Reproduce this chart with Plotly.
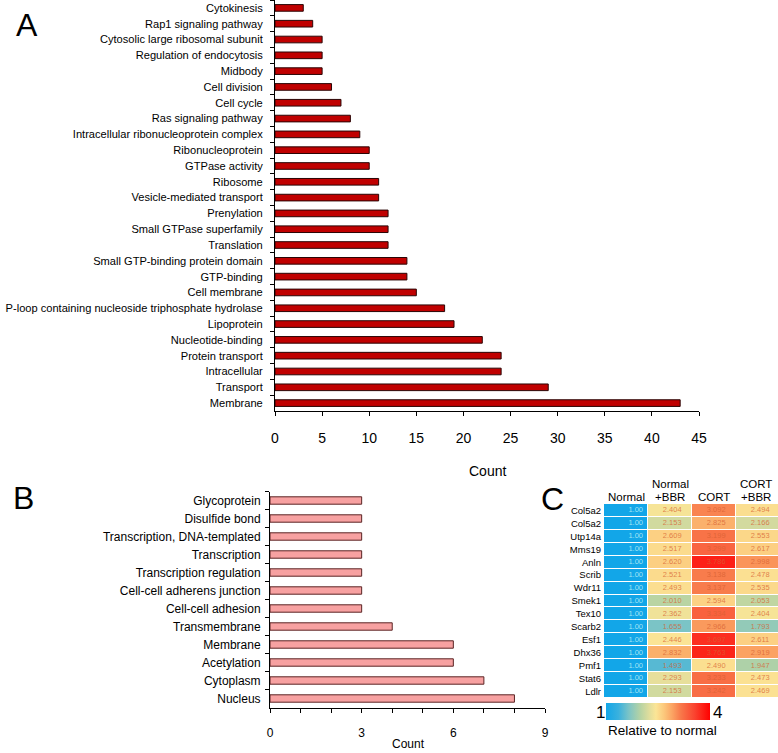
import plotly.graph_objects as go

# ---------------- data ----------------
a_terms = ["Cytokinesis", "Rap1 signaling pathway", "Cytosolic large ribosomal subunit",
           "Regulation of endocytosis", "Midbody", "Cell division", "Cell cycle",
           "Ras signaling pathway", "Intracellular ribonucleoprotein complex",
           "Ribonucleoprotein", "GTPase activity", "Ribosome", "Vesicle-mediated transport",
           "Prenylation", "Small GTPase superfamily", "Translation",
           "Small GTP-binding protein domain", "GTP-binding", "Cell membrane",
           "P-loop containing nucleoside triphosphate hydrolase", "Lipoprotein",
           "Nucleotide-binding", "Protein transport", "Intracellular", "Transport", "Membrane"]
a_counts = [3, 4, 5, 5, 5, 6, 7, 8, 9, 10, 10, 11, 11, 12, 12, 12, 14, 14, 15, 18, 19, 22, 24, 24, 29, 43]

b_terms = ["Glycoprotein", "Disulfide bond", "Transcription, DNA-templated", "Transcription",
           "Transcription regulation", "Cell-cell adherens junction", "Cell-cell adhesion",
           "Transmembrane", "Membrane", "Acetylation", "Cytoplasm", "Nucleus"]
b_counts = [3, 3, 3, 3, 3, 3, 3, 4, 6, 6, 7, 8]

genes = ["Col5a2", "Col5a2", "Utp14a", "Mms19", "Anln", "Scrib", "Wdr11", "Smek1",
         "Tex10", "Scarb2", "Esf1", "Dhx36", "Pmf1", "Stat6", "Ldlr"]
col_top = ["", "Normal", "", "CORT"]
col_bot = ["Normal", "+BBR", "CORT", "+BBR"]
normal = [1.00] * 15
normal_bbr = [2.404, 2.153, 2.609, 2.517, 2.620, 2.521, 2.493, 2.010, 2.362, 1.655, 2.446, 2.832, 1.493, 2.293, 2.153]
cort = [3.092, 2.825, 3.199, 3.299, 3.786, 3.138, 3.137, 2.594, 3.334, 2.966, 3.697, 3.763, 2.490, 3.233, 3.242]
cort_bbr = [2.494, 2.166, 2.553, 2.617, 2.998, 2.478, 2.535, 2.053, 2.404, 1.793, 2.611, 2.919, 1.947, 2.473, 2.469]

# ---------------- layout helpers ----------------
W, H = 778, 753
def px(x):
    return x / W
def py(y):
    return 1 - y / H

FONT = "Liberation Sans, Arial, sans-serif"

fig = go.Figure()

# Panel A
fig.add_trace(go.Bar(x=a_counts, y=a_terms, orientation="h", width=0.42,
                     marker=dict(color="#C00000", line=dict(color="#2a0505", width=1)),
                     xaxis="x", yaxis="y", showlegend=False))
# Panel B
fig.add_trace(go.Bar(x=b_counts, y=b_terms, orientation="h", width=0.41,
                     marker=dict(color="#F7A1A1", line=dict(color="#5a2424", width=1)),
                     xaxis="x2", yaxis="y2", showlegend=False))

# Panel C heatmap
cols = [normal, normal_bbr, cort, cort_bbr]
nrow = len(genes)
z = [[cols[c][r] for c in range(4)] for r in range(nrow)]
colorscale = [
    [0.0, "#12A6E8"],
    [0.12, "#3AB1DE"],
    [0.22, "#7CC4C6"],
    [0.33, "#B6D3A4"],
    [0.42, "#E2DE9C"],
    [0.48, "#FBE596"],
    [0.56, "#FCC77B"],
    [0.64, "#FBA262"],
    [0.72, "#F8784A"],
    [0.85, "#FA4430"],
    [1.0, "#FF0000"],
]
fig.add_trace(go.Heatmap(z=z, x=list(range(4)), y=list(range(nrow)), zmin=1, zmax=4,
                         colorscale=colorscale, xgap=1, ygap=1, hoverinfo="skip",
                         xaxis="x3", yaxis="y3",
                         colorbar=dict(orientation="h", x=px(658), xanchor="center",
                                       len=104 / W, lenmode="fraction", thickness=17,
                                       y=py(703), yanchor="top", xpad=0, ypad=0,
                                       outlinewidth=0, showticklabels=False, ticks="")))

# cell text
tx, ty, tt, tc = [], [], [], []
for r in range(nrow):
    for c in range(4):
        v = cols[c][r]
        tx.append(c + (0.22 if c == 0 else 0.05))
        ty.append(r)
        tt.append(f"{v:.2f}" if c == 0 else f"{v:.3f}")
        tc.append("rgba(175,232,245,0.95)" if c == 0 else "rgba(215,95,50,0.75)")
fig.add_trace(go.Scatter(x=tx, y=ty, text=tt, mode="text", textfont=dict(size=7.5, color=tc, family=FONT),
                         xaxis="x3", yaxis="y3", showlegend=False, hoverinfo="skip"))

axis_common = dict(showline=True, linecolor="black", linewidth=1, showgrid=False, zeroline=False,
                   ticks="outside", tickcolor="black", ticklen=4, fixedrange=True, automargin=False)

fig.update_layout(
    width=W, height=H, margin=dict(l=0, r=0, t=0, b=0, autoexpand=False),
    paper_bgcolor="white", plot_bgcolor="white",
    font=dict(family=FONT, color="black"),
    xaxis=dict(domain=[px(275), px(699)], range=[0, 45], dtick=5, anchor="y",
               tickfont=dict(size=14), ticklabelstandoff=10, **axis_common),
    yaxis=dict(domain=[py(411), py(0)], autorange="reversed", anchor="x", type="category",
               tickson="boundaries", tickfont=dict(size=11.1), ticklabelstandoff=9, **axis_common),
    xaxis2=dict(domain=[px(270), px(545)], range=[0, 9], dtick=3, anchor="y2",
                tickfont=dict(size=12), ticklabelstandoff=10,
                minor=dict(dtick=1, ticks="outside", ticklen=4, tickcolor="black"), **axis_common),
    yaxis2=dict(domain=[py(707.5), py(491.5)], autorange="reversed", anchor="x2", type="category",
                tickson="boundaries", tickfont=dict(size=12), ticklabelstandoff=6, **axis_common),
    xaxis3=dict(domain=[px(604), 1.0], range=[-0.5, -0.5 + (W - 604) / 44.0], anchor="y3",
                visible=False, fixedrange=True, automargin=False),
    yaxis3=dict(domain=[py(698), py(504)], range=[nrow - 0.5, -0.5], anchor="x3",
                tickmode="array", tickvals=list(range(nrow)), ticktext=genes,
                tickfont=dict(size=9.5), ticks="", showline=False, showgrid=False,
                zeroline=False, ticklabelstandoff=2, fixedrange=True, automargin=False),
)

ann = []
# panel letters
ann.append(dict(text="A", x=px(27), y=py(25), font=dict(size=32)))
ann.append(dict(text="B", x=px(23), y=py(498), font=dict(size=32)))
ann.append(dict(text="C", x=px(552), y=py(499), font=dict(size=32)))
# axis titles
ann.append(dict(text="Count", x=px(487), y=py(471), font=dict(size=14)))
ann.append(dict(text="Count", x=px(408), y=py(744), font=dict(size=12)))
# heatmap headers
centers = [626, 670, 714, 756]
for i in range(4):
    if col_top[i]:
        ann.append(dict(text=col_top[i], x=px(centers[i]), y=py(484), font=dict(size=11.5)))
    ann.append(dict(text=col_bot[i], x=px(centers[i]), y=py(496.5), font=dict(size=11.5)))
# colorbar labels
ann.append(dict(text="1", x=px(600), y=py(712), font=dict(size=17)))
ann.append(dict(text="4", x=px(717), y=py(712), font=dict(size=17)))
ann.append(dict(text="Relative to normal", x=px(662), y=py(730), font=dict(size=13.5)))

for a in ann:
    a.update(xref="paper", yref="paper", showarrow=False, xanchor="center", yanchor="middle")
fig.update_layout(annotations=ann)

fig.write_html("out.html", config={"displayModeBar": False},
               post_script="document.body.style.margin='0';document.body.style.overflow='hidden';")
